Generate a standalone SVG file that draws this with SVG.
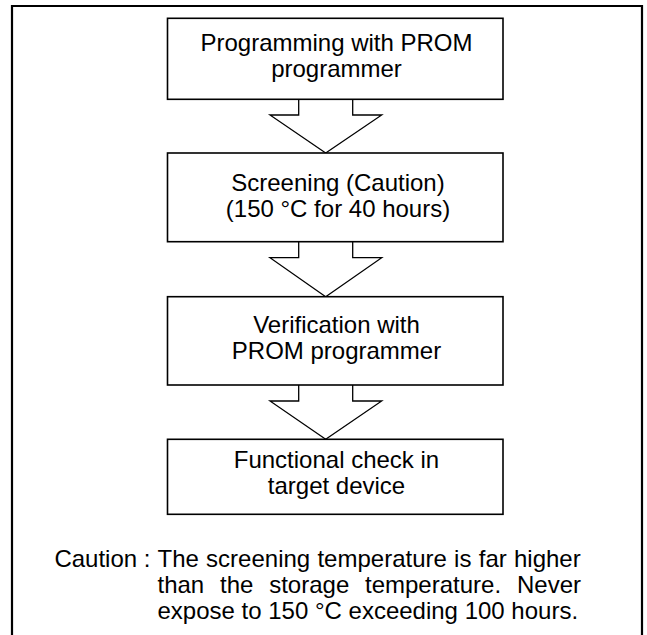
<svg xmlns="http://www.w3.org/2000/svg" width="647" height="635" viewBox="0 0 647 635">
<style>
  .frame { fill: none; stroke: #000; stroke-width: 2.2; }
  .box { fill: #fff; stroke: #000; stroke-width: 1.6; }
  .arrow { fill: #fff; stroke: #000; stroke-width: 1.3; stroke-linejoin: miter; }
  text { font-family: "Liberation Sans", Arial, sans-serif; font-size: 24px; fill: #000; }
  .c { text-anchor: middle; }
</style>
<rect width="647" height="635" fill="#fff"/>
<path class="frame" d="M12,640 L12,6 L642,6 L642,640"/>

<g id="connectors">
  <path class="arrow" d="M298.7,99.3 L298.7,115 L270,115 L325.7,153 L381.7,115 L352.7,115 L352.7,99.3"/>
  <path class="arrow" d="M298.7,241.7 L298.7,257.7 L270,257.7 L325.7,296.7 L381.7,257.7 L352.7,257.7 L352.7,241.7"/>
  <path class="arrow" d="M298.7,385 L298.7,401 L270,401 L325.7,439.3 L381.7,401 L352.7,401 L352.7,385"/>
</g>

<g id="node1">
  <rect class="box" x="167.5" y="18.3" width="335.5" height="81"/>
  <text class="c" x="336.5" y="51">Programming with PROM</text>
  <text class="c" x="336.5" y="77">programmer</text>
</g>
<g id="node2">
  <rect class="box" x="167.5" y="153" width="335.5" height="88.7"/>
  <text class="c" x="338" y="190.7">Screening (Caution)</text>
  <text class="c" x="338" y="216.7">(150 °C for 40 hours)</text>
</g>
<g id="node3">
  <rect class="box" x="167.5" y="296.7" width="335.5" height="88.3"/>
  <text class="c" x="336.5" y="333">Verification with</text>
  <text class="c" x="336.5" y="359">PROM programmer</text>
</g>
<g id="node4">
  <rect class="box" x="167.5" y="439.3" width="335.5" height="75"/>
  <text class="c" x="336.5" y="468">Functional check in</text>
  <text class="c" x="336.5" y="494">target device</text>
</g>

<g id="caution">
  <text x="54.4" y="566.5">Caution :</text>
  <text x="157.5" y="566.5" word-spacing="0.6">The screening temperature is far higher</text>
  <text y="592.5"><tspan x="157.5">than</tspan><tspan x="220">the</tspan><tspan x="269.2">storage</tspan><tspan x="365">temperature.</tspan><tspan x="581" text-anchor="end">Never</tspan></text>
  <text x="157.5" y="618.5">expose to 150 °C exceeding 100 hours.</text>
</g>
</svg>
